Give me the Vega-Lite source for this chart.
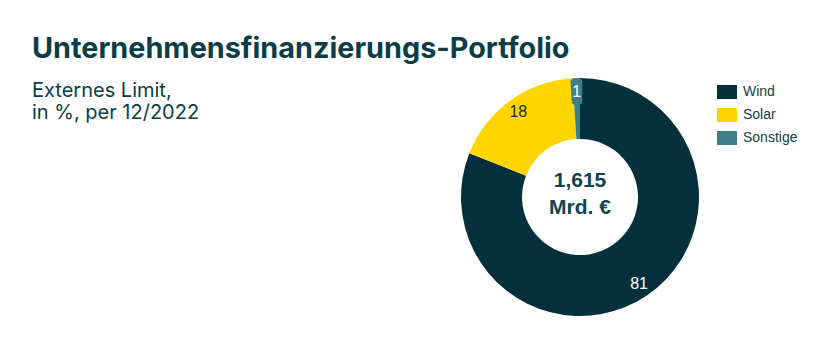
{
  "$schema": "https://vega.github.io/schema/vega-lite/v6.json",
  "width": 238,
  "height": 238,
  "autosize": {"type": "none"},
  "padding": {"left": 461, "top": 78, "right": 134, "bottom": 35},
  "background": "white",
  "title": {
    "text": "Unternehmensfinanzierungs-Portfolio",
    "subtitle": ["Externes Limit,", "in %, per 12/2022"],
    "anchor": "start",
    "frame": "group",
    "dx": -429,
    "offset": -45,
    "font": "Inter",
    "fontSize": 28.8,
    "fontWeight": "bold",
    "color": "#0a3d47",
    "subtitleFont": "Inter",
    "subtitleFontSize": 20,
    "subtitleFontWeight": "normal",
    "subtitleColor": "#0a3d47",
    "subtitleLineHeight": 22,
    "subtitlePadding": 17
  },
  "data": {
    "values": [
      {"category": "Wind", "value": 81, "ord": 1},
      {"category": "Solar", "value": 18, "ord": 2},
      {"category": "Sonstige", "value": 1, "ord": 3}
    ]
  },
  "encoding": {
    "theta": {"field": "value", "type": "quantitative", "stack": true},
    "order": {"field": "ord", "type": "quantitative"}
  },
  "layer": [
    {
      "mark": {"type": "arc", "innerRadius": 58, "outerRadius": 119},
      "encoding": {
        "color": {
          "field": "category",
          "type": "nominal",
          "sort": ["Wind", "Solar", "Sonstige"],
          "scale": {"domain": ["Wind", "Solar", "Sonstige"], "range": ["#042f3d", "#ffd500", "#3c7f88"]},
          "legend": {
            "title": null,
            "orient": "right",
            "offset": 14,
            "padding": 4,
            "symbolType": "M-1,-0.7H1V0.7H-1Z",
            "symbolSize": 400,
            "symbolStrokeWidth": 0,
            "labelFont": "Liberation Sans",
            "labelFontSize": 14,
            "labelColor": "#0e3e48",
            "labelOffset": 6,
            "rowPadding": 6
          }
        }
      }
    },
    {
      "mark": {"type": "arc", "innerRadius": 95, "outerRadius": 116, "color": "#3c7f88", "stroke": "#3c7f88", "strokeWidth": 4.5, "strokeJoin": "round"},
      "encoding": {
        "opacity": {"condition": {"test": "datum.category === 'Sonstige'", "value": 1}, "value": 0}
      }
    },
    {
      "mark": {"type": "text", "radius": 105, "font": "Liberation Sans", "fontSize": 16},
      "encoding": {
        "text": {"field": "value", "type": "quantitative"},
        "color": {"condition": {"test": "datum.category === 'Solar'", "value": "#1d2b30"}, "value": "white"}
      }
    },
    {
      "data": {"values": [{"center": "1,615\nMrd. €"}]},
      "mark": {"type": "text", "lineBreak": "\n", "font": "Liberation Sans", "fontSize": 21, "fontWeight": "bold", "color": "#0e4450", "lineHeight": 27, "baseline": "middle", "align": "center", "dy": -16},
      "encoding": {"text": {"field": "center", "type": "nominal"}, "theta": null, "order": null}
    }
  ]
}
